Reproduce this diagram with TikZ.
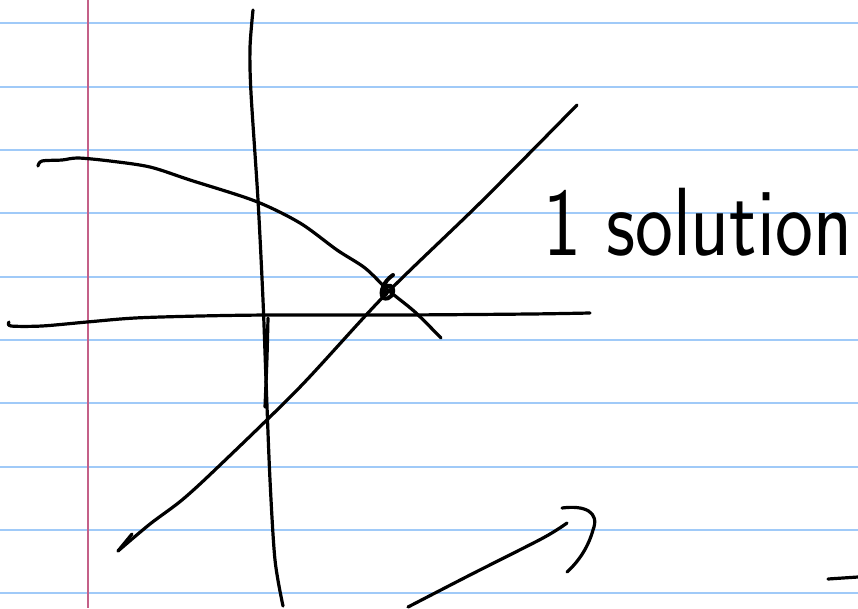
\documentclass[tikz,border=0pt]{standalone}
\definecolor{ruleblue}{RGB}{160,202,248}
\definecolor{marginred}{RGB}{196,96,136}
\begin{document}
\begin{tikzpicture}[x=1pt,y=-1pt,
  ink/.style={line width=3.2pt, line cap=round, line join=round, black},
  rule/.style={line width=2pt, ruleblue},
  marginline/.style={line width=2pt, marginred}]
\useasboundingbox[fill=white] (0,0) rectangle (858,608);
% ruled paper
\foreach \k in {0,...,9} \draw[rule] (0,{23.3+63.33*\k}) -- (858,{23.3+63.33*\k});
\draw[marginline] (87.7,0) -- (87.7,608);
% vertical axis
\draw[ink] plot[smooth] coordinates {(253,10) (250,48) (251,93) (258,200) (263,300) (266,380) (270,480) (275,560) (283,606)};
\draw[ink] (268,318) .. controls (267,360) .. (265,407);
% horizontal axis
\draw[ink] plot[smooth] coordinates {(9,322) (11,326) (42,326) (87,322) (135,318) (200,316) (270,315) (400,315) (530,314) (590,313)};
% downward curve
\draw[ink] plot[smooth] coordinates {(38,166) (42,161) (62,160) (78,158) (110,161) (150,167) (190,180) (255,201) (300,223) (337,250) (365,268) (388,290) (415,312) (441,338)};
% diagonal line
\draw[ink] plot[smooth] coordinates {(577,105) (480,203) (385,295) (300,387) (218,467) (182,500) (150,524) (118,551)};
\draw[ink] (118,551) -- (132,534);
% intersection dot
\draw[ink, line width=4pt] (393,275) .. controls (384,281) and (379,292) .. (383,298) .. controls (390,301) and (397,292) .. (391,286) .. controls (386,284) and (382,290) .. (386,294);
% bottom strokes
\draw[ink] plot[smooth] coordinates {(408,607) (470,575) (543,538) (567,523)};
\draw[ink] (562,508) .. controls (585,505) and (600,512) .. (593,530) .. controls (588,548) and (578,562) .. (567,572);
\draw[ink] (828,579) -- (858,577);
% label
\node[anchor=base west, inner sep=0, xscale=0.83, font=\sffamily\fontsize{97}{97}\selectfont] (label) at (543,255) {1 solution};
\end{tikzpicture}
\end{document}
